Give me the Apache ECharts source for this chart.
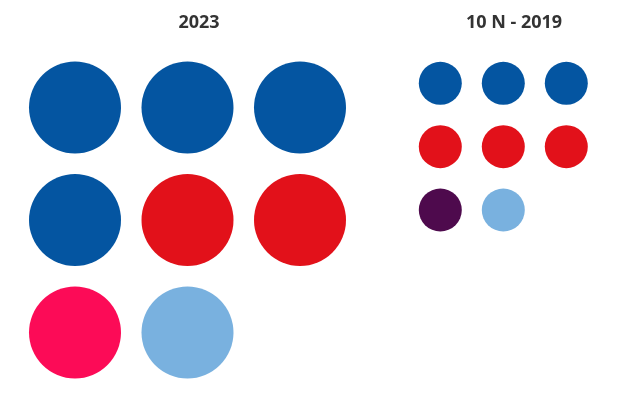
<!DOCTYPE html>
<html>
<head>
<meta charset="utf-8">
<script src="https://cdn.jsdelivr.net/npm/echarts@6/dist/echarts.min.js"></script>
<style>
  html, body { margin: 0; padding: 0; background: #fff; }
  #main { width: 630px; height: 405px; }
</style>
</head>
<body>
<div id="main"></div>
<script>
// bloques de escaños por elección
var titles = ['2023', '10 N - 2019'];
var parties2023 = ['PP', 'PSOE', 'Sumar', 'Vox'];
var seats2023 = [4, 2, 1, 1];
var parties2019 = ['PP', 'PSOE', 'Podemos', 'Vox'];
var seats2019 = [3, 3, 1, 1];

var partyColor = {
  'PP': '#0455a1',
  'PSOE': '#e2111a',
  'Sumar': '#fc0b57',
  'Podemos': '#4e0a4d',
  'Vox': '#79b1df'
};

// un punto por escaño, en filas de 3
function dots(parties, seats) {
  var out = [];
  var k = 0;
  parties.forEach(function (p, i) {
    for (var j = 0; j < seats[i]; j++) {
      out.push({
        name: p,
        value: [k % 3, Math.floor(k / 3)],
        itemStyle: { color: partyColor[p], opacity: 1 }
      });
      k++;
    }
  });
  return out;
}

function hiddenAxis(idx, inverse) {
  return {
    type: 'value', gridIndex: idx, min: 0, max: 2, inverse: !!inverse,
    show: false, splitLine: { show: false }
  };
}

var chart = echarts.init(document.getElementById('main'));
chart.setOption({
  backgroundColor: '#fff',
  animation: false,
  title: [
    {
      text: titles[0], left: 194, top: 9, textAlign: 'center',
      textStyle: { fontFamily: 'Open Sans', fontWeight: 'bold', fontSize: 18, color: '#333' }
    },
    {
      text: titles[1], left: 509, top: 9, textAlign: 'center',
      textStyle: { fontFamily: 'Open Sans', fontWeight: 'bold', fontSize: 18, color: '#333' }
    }
  ],
  grid: [
    { left: 75, top: 107.5, width: 225, height: 225 },
    { left: 440.3, top: 83.3, width: 126, height: 126.7 }
  ],
  xAxis: [hiddenAxis(0), hiddenAxis(1)],
  yAxis: [hiddenAxis(0, true), hiddenAxis(1, true)],
  series: [
    {
      type: 'scatter', xAxisIndex: 0, yAxisIndex: 0,
      symbolSize: 92, itemStyle: { opacity: 1 },
      data: dots(parties2023, seats2023)
    },
    {
      type: 'scatter', xAxisIndex: 1, yAxisIndex: 1,
      symbolSize: 43, itemStyle: { opacity: 1 },
      data: dots(parties2019, seats2019)
    }
  ]
});
</script>
</body>
</html>
